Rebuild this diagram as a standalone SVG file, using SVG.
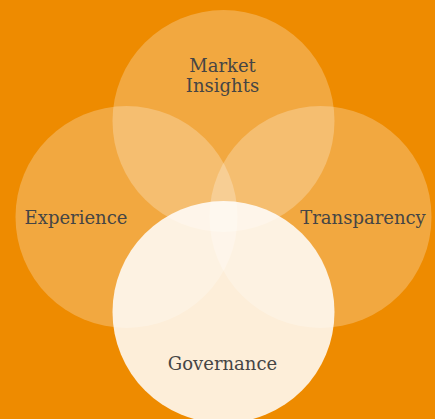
<svg xmlns="http://www.w3.org/2000/svg" width="435" height="419" viewBox="0 0 435 419">
<style>
.c{fill:#ffffff;fill-opacity:0.25;stroke:none}
.b{fill:#ffffff;fill-opacity:0.85;stroke:none}
text{font-family:"DejaVu Serif",serif;font-size:18px;fill:#454545;text-anchor:middle}
</style>
<rect width="435" height="419" fill="#EE8B00"/>
<g id="market"><circle class="c" cx="223.5" cy="121" r="111"/><text x="222.5" y="72">Market</text><text x="222.5" y="92">Insights</text></g>
<g id="experience"><circle class="c" cx="126.5" cy="217" r="111"/><text x="76" y="224">Experience</text></g>
<g id="transparency"><circle class="c" cx="320.5" cy="217" r="111"/><text x="363" y="224">Transparency</text></g>
<g id="governance"><circle class="b" cx="223.5" cy="312" r="111"/><text x="222.5" y="370">Governance</text></g>
<g id="connectors"></g>
</svg>
